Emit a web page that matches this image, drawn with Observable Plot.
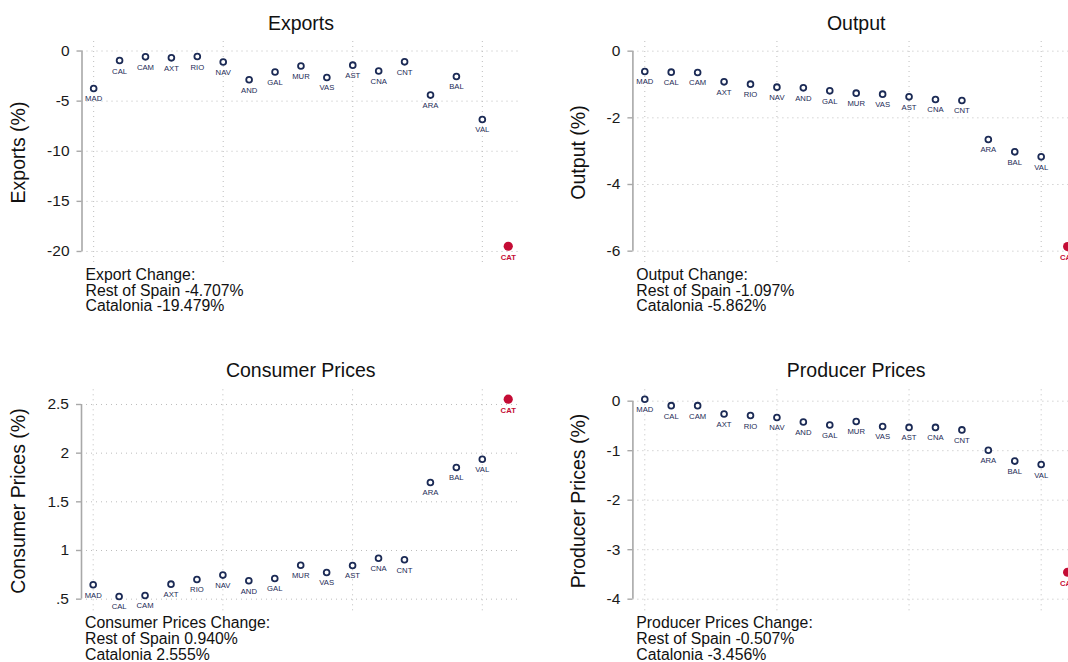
<!DOCTYPE html>
<html><head><meta charset="utf-8">
<script src="https://cdn.jsdelivr.net/npm/d3@7"></script>
<script src="https://cdn.jsdelivr.net/npm/@observablehq/plot@0.6"></script>
<style>
body{margin:0;background:#fff;}
#wrap{position:relative;width:1068px;height:662px;overflow:hidden;background:#fff;}
.panel{position:absolute;}
.panel svg{max-width:none !important;}
</style>
</head><body><div id="wrap"></div>
<script>
const regions = ["MAD","CAL","CAM","AXT","RIO","NAV","AND","GAL","MUR","VAS","AST","CNA","CNT","ARA","BAL","VAL","CAT"];
const exportsPct = [-3.74,-0.95,-0.58,-0.68,-0.55,-1.10,-2.87,-2.10,-1.50,-2.64,-1.41,-2.00,-1.08,-4.40,-2.54,-6.83,-19.479];
const outputPct = [-0.61,-0.63,-0.64,-0.92,-0.99,-1.08,-1.10,-1.19,-1.26,-1.29,-1.37,-1.45,-1.48,-2.65,-3.02,-3.17,-5.862];
const consumerPct = [0.648,0.528,0.538,0.654,0.702,0.747,0.689,0.713,0.849,0.774,0.846,0.921,0.905,1.699,1.853,1.938,2.555];
const producerPct = [0.04,-0.09,-0.09,-0.26,-0.29,-0.33,-0.42,-0.48,-0.41,-0.51,-0.53,-0.53,-0.58,-0.99,-1.21,-1.28,-3.456];

const exportsTicks = [0,-5,-10,-15,-20];
const exportsTickLabels = ["0","-5","-10","-15","-20"];
const outputTicks = [0,-2,-4,-6];
const outputTickLabels = ["0","-2","-4","-6"];
const consumerTicks = [2.5,2,1.5,1,0.5];
const consumerTickLabels = ["2.5","2","1.5","1",".5"];
const producerTicks = [0,-1,-2,-3,-4];
const producerTickLabels = ["0","-1","-2","-3","-4"];
const xGridTicks = [0,5,10,15];

const titles = ["Exports","Output","Consumer Prices","Producer Prices"];
const yLabels = ["Exports (%)","Output (%)","Consumer Prices (%)","Producer Prices (%)"];
const notes = [
  "Export Change:\nRest of Spain -4.707%\nCatalonia -19.479%",
  "Output Change:\nRest of Spain -1.097%\nCatalonia -5.862%",
  "Consumer Prices Change:\nRest of Spain 0.940%\nCatalonia 2.555%",
  "Producer Prices Change:\nRest of Spain -0.507%\nCatalonia -3.456%"
];

const navy = "#1b2a55";
const red = "#c40c35";
const gridColor = "#bdbdbd";
const axisColor = "#a8a8a8";
const font = "'Liberation Sans', Arial, Helvetica, sans-serif";

function panel(cfg) {
  const data = regions.map((r, i) => ({r, i, v: cfg.values[i]}));
  const rest = data.filter(d => d.r !== "CAT");
  const cat = data.filter(d => d.r === "CAT");
  const xDomain = [-0.45, 16.45];
  const ticks = cfg.ticks;
  return Plot.plot({
    width: cfg.w, height: 331,
    marginTop: cfg.mt, marginBottom: cfg.mb, marginLeft: cfg.ml, marginRight: cfg.mr,
    style: {fontFamily: font, background: "white", overflow: "visible", maxWidth: "none"},
    x: {domain: xDomain, axis: null},
    y: {domain: cfg.yDomain, axis: null},
    marks: [
      Plot.gridX(xGridTicks, {stroke: gridColor, strokeOpacity: 1, strokeWidth: 1, strokeDasharray: "1,4"}),
      Plot.gridY(ticks, {stroke: gridColor, strokeOpacity: 1, strokeWidth: 1, strokeDasharray: "1,4"}),
      Plot.ruleX([xDomain[0]], {y1: d3.min(ticks), y2: d3.max(ticks), stroke: axisColor, strokeWidth: 1.6}),
      Plot.axisY(ticks, {
        tickSize: 5, tickPadding: 7.5, stroke: axisColor, strokeWidth: 1.4, fill: "#1a1a1a",
        fontSize: 15.5, label: null,
        tickFormat: d => cfg.tickLabels[ticks.indexOf(d)]
      }),
      Plot.dot(rest, {x: "i", y: "v", r: 2.9, stroke: navy, strokeWidth: 1.8, fill: "white"}),
      Plot.dot(cat, {x: "i", y: "v", r: 4.6, fill: red}),
      Plot.text(rest, {x: "i", y: "v", text: "r", dy: 10.5, fontSize: 7.7, fill: navy}),
      Plot.text(cat, {x: "i", y: "v", text: "r", dy: 11, fontSize: 7.7, fill: red, fontWeight: "bold"}),
      Plot.text([cfg.title], {frameAnchor: "top", lineAnchor: "bottom", dy: cfg.tdy, fontSize: 19.5, fill: "#111"}),
      Plot.text([cfg.ylabel], {frameAnchor: "left", textAnchor: "middle", lineAnchor: "middle", rotate: -90, dx: cfg.ldx, fontSize: 19.5, fill: "#111"}),
      Plot.text([cfg.note], {frameAnchor: "bottom-left", textAnchor: "start", lineAnchor: "top",
        dx: cfg.ndx, dy: cfg.ndy, fontSize: 15.8, lineHeight: 1.0, fill: "#111"})
    ]
  });
}

const configs = [
  {values: exportsPct, ticks: exportsTicks, tickLabels: exportsTickLabels, yDomain: [-21.2, 0.95],
   w: 534, mt: 41, mb: 68, ml: 81.5, mr: 14.6, tdy: -11.7, ldx: -62.8, ndx: 3.5, ndy: 5, left: 0, top: 0},
  {values: outputPct, ticks: outputTicks, tickLabels: outputTickLabels, yDomain: [-6.37, 0.29],
   w: 545, mt: 41, mb: 68, ml: 98.4, mr: 0, tdy: -11.7, ldx: -54, ndx: 3.4, ndy: 5, left: 534, top: 0},
  {values: consumerPct, ticks: consumerTicks, tickLabels: consumerTickLabels, yDomain: [0.366, 2.651],
   w: 534, mt: 58.3, mb: 50.3, ml: 81, mr: 14.6, tdy: -12.6, ldx: -62.3, ndx: 3.5, ndy: 4.5, left: 0, top: 331},
  {values: producerPct, ticks: producerTicks, tickLabels: producerTickLabels, yDomain: [-4.263, 0.23],
   w: 545, mt: 58.3, mb: 50.3, ml: 98.4, mr: 0, tdy: -12.6, ldx: -54, ndx: 3.4, ndy: 4.5, left: 534, top: 331}
];

const wrap = document.getElementById("wrap");
configs.forEach((c, k) => {
  c.title = titles[k]; c.ylabel = yLabels[k]; c.note = notes[k];
  const svg = panel(c);
  const div = document.createElement("div");
  div.className = "panel";
  div.style.left = c.left + "px";
  div.style.top = c.top + "px";
  div.style.width = c.w + "px";
  div.style.height = "331px";
  div.appendChild(svg);
  wrap.appendChild(div);
});
</script>
</body></html>
